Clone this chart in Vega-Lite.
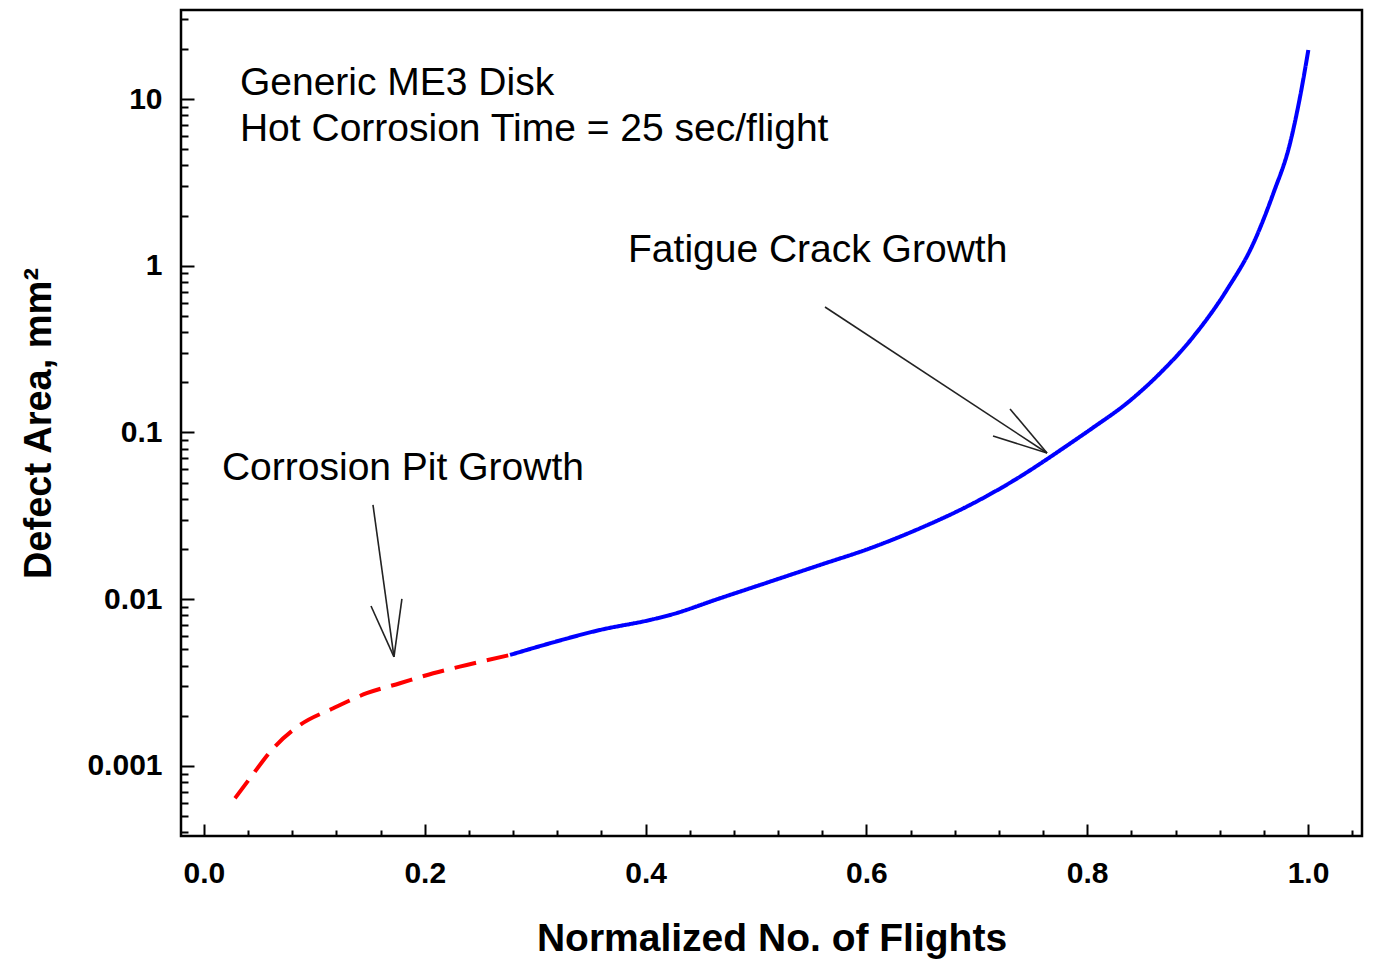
{
  "$schema": "https://vega.github.io/schema/vega-lite/v6.json",
  "width": 1181,
  "height": 826,
  "autosize": {"type": "none"},
  "padding": {"left": 181, "top": 10, "right": 11, "bottom": 127},
  "background": "white",
  "config": {
    "view": {"stroke": "black", "strokeWidth": 2.5},
    "font": "Liberation Sans"
  },
  "datasets": {
    "curve": [
      {"flights": 0.0281, "area": 0.000640, "phase": "Corrosion Pit Growth"},
      {"flights": 0.0417, "area": 0.000844, "phase": "Corrosion Pit Growth"},
      {"flights": 0.0628, "area": 0.001277, "phase": "Corrosion Pit Growth"},
      {"flights": 0.0870, "area": 0.001761, "phase": "Corrosion Pit Growth"},
      {"flights": 0.1171, "area": 0.002218, "phase": "Corrosion Pit Growth"},
      {"flights": 0.1474, "area": 0.002729, "phase": "Corrosion Pit Growth"},
      {"flights": 0.1775, "area": 0.003133, "phase": "Corrosion Pit Growth"},
      {"flights": 0.2077, "area": 0.003597, "phase": "Corrosion Pit Growth"},
      {"flights": 0.2380, "area": 0.004033, "phase": "Corrosion Pit Growth"},
      {"flights": 0.2772, "area": 0.004631, "phase": "Corrosion Pit Growth"},
      {"flights": 0.2772, "area": 0.004631, "phase": "Fatigue Crack Growth"},
      {"flights": 0.3134, "area": 0.005442, "phase": "Fatigue Crack Growth"},
      {"flights": 0.3587, "area": 0.006539, "phase": "Fatigue Crack Growth"},
      {"flights": 0.4040, "area": 0.007508, "phase": "Fatigue Crack Growth"},
      {"flights": 0.4221, "area": 0.008043, "phase": "Fatigue Crack Growth"},
      {"flights": 0.4674, "area": 0.010132, "phase": "Fatigue Crack Growth"},
      {"flights": 0.5127, "area": 0.012745, "phase": "Fatigue Crack Growth"},
      {"flights": 0.5580, "area": 0.016045, "phase": "Fatigue Crack Growth"},
      {"flights": 0.6033, "area": 0.020208, "phase": "Fatigue Crack Growth"},
      {"flights": 0.6486, "area": 0.026641, "phase": "Fatigue Crack Growth"},
      {"flights": 0.6938, "area": 0.036747, "phase": "Fatigue Crack Growth"},
      {"flights": 0.7391, "area": 0.054301, "phase": "Fatigue Crack Growth"},
      {"flights": 0.7663, "area": 0.07112, "phase": "Fatigue Crack Growth"},
      {"flights": 0.7814, "area": 0.08318, "phase": "Fatigue Crack Growth"},
      {"flights": 0.8055, "area": 0.10715, "phase": "Fatigue Crack Growth"},
      {"flights": 0.8358, "area": 0.14966, "phase": "Fatigue Crack Growth"},
      {"flights": 0.8659, "area": 0.22646, "phase": "Fatigue Crack Growth"},
      {"flights": 0.8961, "area": 0.37537, "phase": "Fatigue Crack Growth"},
      {"flights": 0.9264, "area": 0.71532, "phase": "Fatigue Crack Growth"},
      {"flights": 0.9505, "area": 1.3628, "phase": "Fatigue Crack Growth"},
      {"flights": 0.9686, "area": 2.7197, "phase": "Fatigue Crack Growth"},
      {"flights": 0.9837, "area": 5.4238, "phase": "Fatigue Crack Growth"},
      {"flights": 0.9928, "area": 10.32, "phase": "Fatigue Crack Growth"},
      {"flights": 1.0003, "area": 19.68, "phase": "Fatigue Crack Growth"}
    ],
    "arrows": [
      {"x1": 0.5625, "y1": 0.5656, "x2": 0.7636, "y2": 0.07535},
      {"x1": 0.7301, "y1": 0.13831, "x2": 0.7636, "y2": 0.07535},
      {"x1": 0.7147, "y1": 0.09528, "x2": 0.7636, "y2": 0.07535},
      {"x1": 0.1531, "y1": 0.03675, "x2": 0.1721, "y2": 0.004505},
      {"x1": 0.1513, "y1": 0.009111, "x2": 0.1721, "y2": 0.004505},
      {"x1": 0.1793, "y1": 0.010035, "x2": 0.1721, "y2": 0.004505}
    ],
    "notes": [
      {"x": 0.0326, "y": 10.57, "label": "Generic ME3 Disk"},
      {"x": 0.0326, "y": 5.599, "label": "Hot Corrosion Time = 25 sec/flight"},
      {"x": 0.3841, "y": 1.053, "label": "Fatigue Crack Growth"},
      {"x": 0.0163, "y": 0.05188, "label": "Corrosion Pit Growth"}
    ]
  },
  "layer": [
    {
      "data": {"name": "curve"},
      "mark": {"type": "line", "strokeWidth": 4, "interpolate": "monotone", "clip": true},
      "encoding": {
        "x": {
          "field": "flights",
          "type": "quantitative",
          "scale": {"domain": [-0.0208, 1.0489], "nice": false, "zero": false},
          "axis": {
            "title": "Normalized No. of Flights",
            "values": [0, 0.04, 0.08, 0.12, 0.16, 0.2, 0.24, 0.28, 0.32, 0.36, 0.4, 0.44, 0.48, 0.52, 0.56, 0.6, 0.64, 0.68, 0.72, 0.76, 0.8, 0.84, 0.88, 0.92, 0.96, 1.0, 1.04],
            "labelExpr": "abs(datum.value*5-round(datum.value*5))<0.001 ? format(datum.value,'.1f') : ''",
            "tickSize": {"condition": {"test": "abs(datum.value*5-round(datum.value*5))<0.001", "value": -12}, "value": -6},
            "tickColor": "black",
            "tickWidth": 2,
            "domain": false,
            "grid": false,
            "labelFont": "Liberation Sans",
            "labelFontWeight": "bold",
            "labelFontSize": 30,
            "labelColor": "black",
            "labelPadding": 34,
            "labelFlush": false,
            "labelOverlap": false,
            "titleFont": "Liberation Sans",
            "titleFontWeight": "bold",
            "titleFontSize": 39,
            "titleColor": "black",
            "titlePadding": 25
          }
        },
        "y": {
          "field": "area",
          "type": "quantitative",
          "scale": {"type": "log", "domain": [0.00038, 34.2], "nice": false},
          "axis": {
            "title": "Defect Area, mm²",
            "values": [0.0004, 0.0005, 0.0006, 0.0007, 0.0008, 0.0009, 0.001, 0.002, 0.003, 0.004, 0.005, 0.006, 0.007, 0.008, 0.009, 0.01, 0.02, 0.03, 0.04, 0.05, 0.06, 0.07, 0.08, 0.09, 0.1, 0.2, 0.3, 0.4, 0.5, 0.6, 0.7, 0.8, 0.9, 1, 2, 3, 4, 5, 6, 7, 8, 9, 10, 20, 30],
            "labelExpr": "abs(log(datum.value)/LN10-round(log(datum.value)/LN10))<0.001 ? toString(datum.value) : ''",
            "tickSize": {"condition": {"test": "abs(log(datum.value)/LN10-round(log(datum.value)/LN10))<0.001", "value": -13}, "value": -7},
            "tickColor": "black",
            "tickWidth": 2,
            "domain": false,
            "grid": false,
            "labelFont": "Liberation Sans",
            "labelFontWeight": "bold",
            "labelFontSize": 30,
            "labelColor": "black",
            "labelPadding": 32,
            "labelFlush": false,
            "labelOverlap": false,
            "titleFont": "Liberation Sans",
            "titleFontWeight": "bold",
            "titleFontSize": 38,
            "titleColor": "black",
            "titlePadding": 28
          }
        },
        "color": {
          "field": "phase",
          "type": "nominal",
          "scale": {"domain": ["Corrosion Pit Growth", "Fatigue Crack Growth"], "range": ["#ff0000", "#0000ff"]},
          "legend": null
        },
        "strokeDash": {
          "field": "phase",
          "type": "nominal",
          "scale": {"domain": ["Corrosion Pit Growth", "Fatigue Crack Growth"], "range": [[22, 11], [1, 0]]},
          "legend": null
        }
      }
    },
    {
      "data": {"name": "arrows"},
      "mark": {"type": "rule", "color": "#222222", "strokeWidth": 1.6},
      "encoding": {
        "x": {"field": "x1", "type": "quantitative"},
        "y": {"field": "y1", "type": "quantitative"},
        "x2": {"field": "x2"},
        "y2": {"field": "y2"}
      }
    },
    {
      "data": {"name": "notes"},
      "mark": {"type": "text", "align": "left", "baseline": "alphabetic", "font": "Liberation Sans", "fontSize": 39, "color": "black"},
      "encoding": {
        "x": {"field": "x", "type": "quantitative"},
        "y": {"field": "y", "type": "quantitative"},
        "text": {"field": "label"}
      }
    }
  ]
}
